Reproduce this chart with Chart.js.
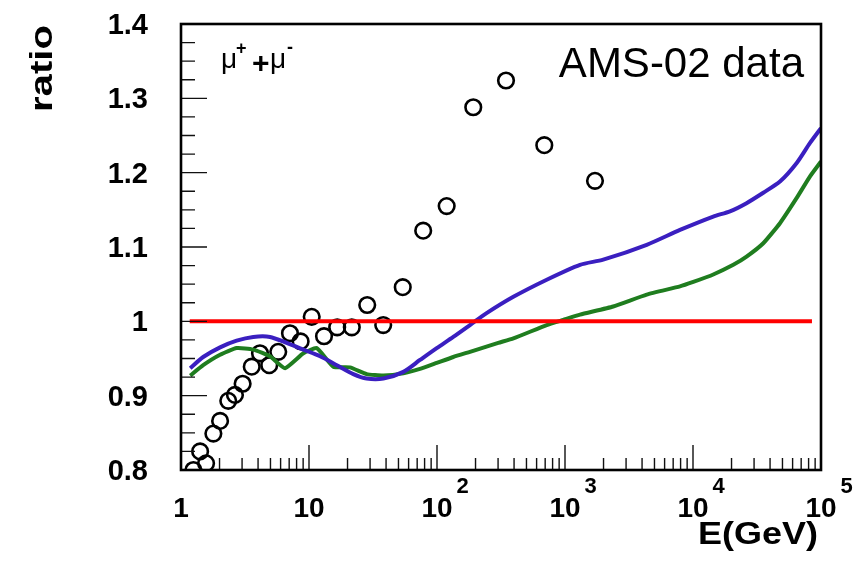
<!DOCTYPE html>
<html>
<head>
<meta charset="utf-8">
<script src="https://cdn.jsdelivr.net/npm/chart.js@4/dist/chart.umd.min.js"></script>
<style>
  html, body { margin: 0; padding: 0; background: #fff; }
</style>
</head>
<body>
<canvas id="ratio-chart" width="859" height="562"></canvas>
<script>
// AMS-02 muon ratio points (open circles)
const amsEnergy = [1.25, 1.41, 1.57, 1.79, 2.02, 2.34, 2.64, 3.03, 3.57, 4.14, 4.89, 5.75, 7.1, 8.6, 10.5, 13.1, 16.6, 21.6, 28.5, 38, 54, 78, 119, 192, 346, 689, 1715];
const amsRatio = [0.800, 0.825, 0.809, 0.849, 0.866, 0.893, 0.901, 0.916, 0.939, 0.957, 0.941, 0.959, 0.984, 0.973, 1.006, 0.980, 0.992, 0.992, 1.022, 0.995, 1.046, 1.122, 1.155, 1.288, 1.324, 1.237, 1.189];

// model curves
const blueEnergy = [1.18, 1.49, 2.02, 2.72, 3.67, 4.96, 6.69, 9.03, 12.2, 16.5, 22.2, 28.2, 38.1, 54.6, 73.6, 99.5, 134, 181, 244, 395, 720, 1310, 1990, 4350, 7910, 14400, 19450, 26200, 35400, 47800, 64600, 82100, 100000];
const blueRatio = [0.937, 0.952, 0.965, 0.974, 0.979, 0.979, 0.971, 0.962, 0.953, 0.941, 0.929, 0.923, 0.923, 0.932, 0.948, 0.964, 0.979, 0.995, 1.011, 1.033, 1.056, 1.076, 1.083, 1.103, 1.123, 1.141, 1.148, 1.159, 1.173, 1.188, 1.213, 1.240, 1.260];

const greenEnergy = [1.18, 1.49, 2.02, 2.72, 3.67, 4.96, 6.5, 9.03, 11.5, 15.5, 20.9, 28.2, 38.1, 54.6, 73.6, 99.5, 134, 181, 301, 395, 720, 970, 1310, 2380, 4350, 7910, 10050, 14400, 20650, 26200, 35400, 47800, 64600, 82100, 100000];
const greenRatio = [0.927, 0.941, 0.955, 0.964, 0.962, 0.953, 0.937, 0.957, 0.964, 0.939, 0.938, 0.929, 0.927, 0.930, 0.936, 0.944, 0.952, 0.959, 0.971, 0.977, 0.995, 1.002, 1.009, 1.020, 1.036, 1.047, 1.053, 1.063, 1.076, 1.087, 1.105, 1.132, 1.166, 1.195, 1.215];

const refEnergy = [1.17, 85000];
const refRatio = [1, 1];

// axis ticks
const xMajorTicks = [1, 10, 100, 1000, 10000, 100000];
const xMajorBase = ['1', '10', '10', '10', '10', '10'];
const xMajorExp = ['', '', '2', '3', '4', '5'];
const xMinorMultipliers = [2, 3, 4, 5, 6, 7, 8, 9];
const yMajorTicks = [0.8, 0.9, 1.0, 1.1, 1.2, 1.3, 1.4];
const yMajorLabels = ['0.8', '0.9', '1', '1.1', '1.2', '1.3', '1.4'];
const yMinorStep = 0.025;

const FONT = "'Liberation Sans', Arial, Helvetica, sans-serif";

function toPoints(xs, ys) {
  return xs.map((x, i) => ({ x: x, y: ys[i] }));
}

// ROOT-style labels come out wider than the font, so stretch them to width
function drawStretched(ctx, text, x, y, width, align) {
  const natural = ctx.measureText(text).width;
  ctx.save();
  ctx.translate(x, y);
  ctx.scale(width / natural, 1);
  ctx.textAlign = align;
  ctx.fillText(text, 0, 0);
  ctx.restore();
}

const framePlugin = {
  id: 'rootFrame',
  afterDatasetsDraw(chart) {
    const { ctx, chartArea: area, scales: { x, y } } = chart;
    ctx.save();
    ctx.strokeStyle = '#111';
    ctx.lineWidth = 1.4;
    ctx.beginPath();
    // bottom ticks
    xMajorTicks.forEach((t, i) => {
      const px = x.getPixelForValue(t);
      ctx.moveTo(px, area.bottom);
      ctx.lineTo(px, area.bottom - 25);
      if (i < xMajorTicks.length - 1) {
        xMinorMultipliers.forEach(m => {
          const mx = x.getPixelForValue(t * m);
          ctx.moveTo(mx, area.bottom);
          ctx.lineTo(mx, area.bottom - 12);
        });
      }
    });
    // left ticks
    yMajorTicks.forEach(t => {
      const py = y.getPixelForValue(t);
      ctx.moveTo(area.left, py);
      ctx.lineTo(area.left + 26, py);
    });
    for (let v = yMajorTicks[0]; v < yMajorTicks[yMajorTicks.length - 1]; v += yMinorStep) {
      const py = y.getPixelForValue(v);
      ctx.moveTo(area.left, py);
      ctx.lineTo(area.left + 14, py);
    }
    ctx.stroke();

    ctx.lineWidth = 2.6;
    ctx.strokeStyle = '#000';
    ctx.strokeRect(area.left, area.top, area.right - area.left, area.bottom - area.top);
    ctx.restore();
  },
  afterDraw(chart) {
    const { ctx, scales: { x, y } } = chart;
    ctx.save();
    ctx.fillStyle = '#000';

    // y tick labels
    ctx.font = 'bold 29px ' + FONT;
    ctx.textAlign = 'right';
    ctx.textBaseline = 'middle';
    yMajorTicks.forEach((t, i) => {
      ctx.fillText(yMajorLabels[i], 148, y.getPixelForValue(t) + 2);
    });

    // x tick labels with exponents
    ctx.textBaseline = 'alphabetic';
    xMajorTicks.forEach((t, i) => {
      const px = x.getPixelForValue(t);
      ctx.font = 'bold 28px ' + FONT;
      ctx.textAlign = 'center';
      ctx.fillText(xMajorBase[i], px, 517);
      if (xMajorExp[i]) {
        const w = ctx.measureText(xMajorBase[i]).width;
        ctx.font = 'bold 22px ' + FONT;
        ctx.textAlign = 'left';
        ctx.fillText(xMajorExp[i], px + w / 2 + 4, 493);
      }
    });

    // axis titles
    ctx.font = 'bold 31px ' + FONT;
    drawStretched(ctx, 'E(GeV)', 818, 544, 120, 'right');
    ctx.save();
    ctx.translate(52, 25);
    ctx.rotate(-Math.PI / 2);
    drawStretched(ctx, 'ratio', 0, 0, 87, 'right');
    ctx.restore();

    // in-frame labels
    ctx.font = '42px ' + FONT;
    ctx.textAlign = 'right';
    ctx.fillText('AMS-02 data', 804, 77);

    ctx.textAlign = 'left';
    ctx.font = '28px ' + FONT;
    ctx.fillText('\u03bc', 221, 68);
    ctx.fillText('\u03bc', 270, 68);
    ctx.font = 'bold 18px ' + FONT;
    ctx.fillText('+', 236, 54);
    ctx.fillText('-', 287, 53);
    ctx.font = 'bold 30px ' + FONT;
    ctx.fillText('+', 252, 73);
    ctx.restore();
  }
};

new Chart(document.getElementById('ratio-chart'), {
  type: 'scatter',
  data: {
    datasets: [
      {
        label: 'reference',
        data: toPoints(refEnergy, refRatio),
        showLine: true,
        borderColor: '#ff0000',
        borderWidth: 4,
        pointRadius: 0
      },
      {
        label: 'model 1',
        data: toPoints(blueEnergy, blueRatio),
        showLine: true,
        borderColor: '#3a1fc0',
        borderWidth: 4,
        tension: 0.25,
        pointRadius: 0
      },
      {
        label: 'model 2',
        data: toPoints(greenEnergy, greenRatio),
        showLine: true,
        borderColor: '#1f7d1f',
        borderWidth: 4,
        tension: 0.15,
        pointRadius: 0
      },
      {
        label: 'AMS-02 data',
        data: toPoints(amsEnergy, amsRatio),
        showLine: false,
        pointRadius: 7.8,
        pointBorderWidth: 2.6,
        pointBorderColor: '#000',
        pointBackgroundColor: 'rgba(0,0,0,0)'
      }
    ]
  },
  options: {
    responsive: false,
    animation: false,
    events: [],
    layout: { padding: { left: 0, top: 24, right: 38, bottom: 0 } },
    plugins: { legend: { display: false }, tooltip: { enabled: false } },
    scales: {
      x: {
        type: 'logarithmic',
        min: 1,
        max: 100000,
        grid: { display: false },
        border: { display: false },
        ticks: { display: false },
        afterFit: scale => { scale.height = 92; }
      },
      y: {
        type: 'linear',
        min: 0.8,
        max: 1.4,
        grid: { display: false },
        border: { display: false },
        ticks: { display: false },
        afterFit: scale => { scale.width = 181; }
      }
    }
  },
  plugins: [framePlugin]
});
</script>
</body>
</html>
